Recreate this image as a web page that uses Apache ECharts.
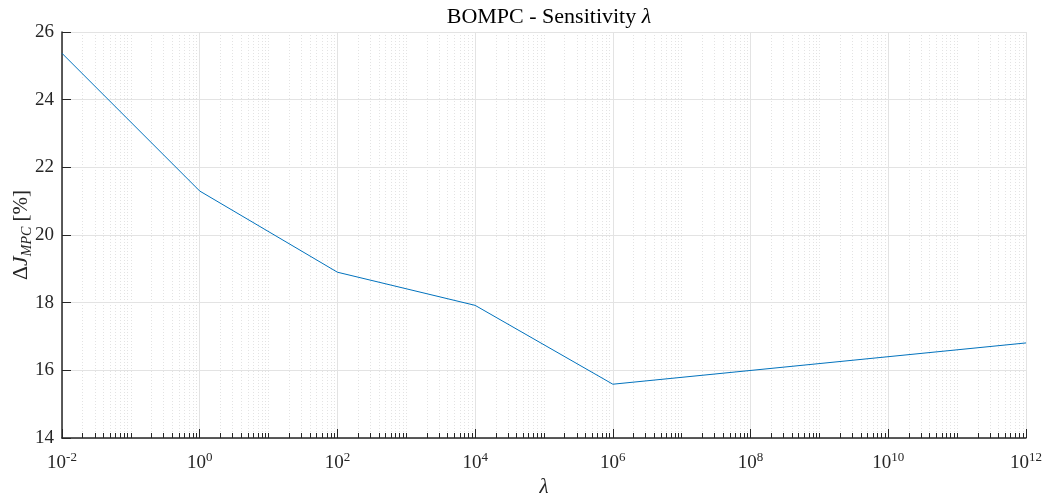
<!DOCTYPE html>
<html>
<head>
<meta charset="utf-8">
<script src="https://cdn.jsdelivr.net/npm/echarts@6/dist/echarts.min.js"></script>
<style>
  html, body { margin: 0; padding: 0; background: #fff; }
  #chart { width: 1047px; height: 495px; }
</style>
</head>
<body>
<div id="chart"></div>
<script>
// lambda values and the cost change
const lambdaValues = [1e-2, 1e0, 1e2, 1e4, 1e6, 1e12];
const deltaJ = [25.37, 21.30, 18.90, 17.92, 15.59, 16.81];

// axis ranges (x in decades)
const xDecades = [-2, 12];
const yRange = [14, 26];

// minor ticks of the log axis: 2..9 in every decade, plus the odd decades
const minorTickExps = [];
for (let n = xDecades[0]; n < xDecades[1]; n++) {
  for (let k = 1; k <= 9; k++) {
    if (k === 1 && n % 2 === 0) continue;
    minorTickExps.push(n + Math.log10(k));
  }
}

const font = '"Liberation Serif", "DejaVu Serif", serif';
const axisColor = '#262626';

let chart = echarts.init(document.getElementById('chart'));
chart.setOption({
  animation: false,
  title: {
    text: '{n|BOMPC - Sensitivity }{l|λ}',
    left: 544,
    textAlign: 'center',
    top: 1,
    textStyle: {
      rich: {
        n: { fontFamily: font, fontSize: 22, fontWeight: 'normal', color: '#000' },
        l: { fontFamily: font, fontSize: 22, fontWeight: 'normal', fontStyle: 'italic', color: '#000' }
      }
    }
  },
  grid: { left: 62, right: 21, top: 32, bottom: 57, outerBoundsMode: 'none', containLabel: false },
  xAxis: [
    {
      type: 'value',
      min: xDecades[0],
      max: xDecades[1],
      interval: 2,
      name: 'λ',
      nameLocation: 'middle',
      nameGap: 39,
      nameTextStyle: { fontFamily: font, fontSize: 21, fontStyle: 'italic', color: '#262626' },
      axisLine: { onZero: false, lineStyle: { color: axisColor, width: 1.5 } },
      axisTick: { inside: true, length: 9, lineStyle: { color: axisColor } },
      axisLabel: {
        margin: 13,
        formatter: v => '{b|10}{s|' + v + '}',
        rich: {
          b: { fontFamily: font, fontSize: 19, color: '#262626', lineHeight: 24 },
          s: { fontFamily: font, fontSize: 13, color: '#262626', verticalAlign: 'top', lineHeight: 20 }
        }
      },
      splitLine: { show: true, lineStyle: { color: '#e3e3e3', width: 1 } }
    },
    {
      type: 'value',
      min: xDecades[0],
      max: xDecades[1],
      position: 'bottom',
      axisLine: { show: false, onZero: false },
      axisLabel: { show: false },
      axisTick: {
        inside: true,
        length: 5,
        customValues: minorTickExps,
        lineStyle: { color: axisColor }
      },
      splitLine: { show: true, lineStyle: { color: '#e3e3e3', width: 1, type: [1, 2] } }
    }
  ],
  yAxis: {
    type: 'value',
    min: yRange[0],
    max: yRange[1],
    interval: 2,
    name: '{d|Δ}{j|J}{sub|MPC}{p| [%]}',
    nameLocation: 'middle',
    nameGap: 28,
    nameMoveOverlap: false,
    nameTextStyle: {
      rich: {
        d: { fontFamily: font, fontSize: 22, color: '#262626', lineHeight: 26 },
        j: { fontFamily: font, fontSize: 22, fontStyle: 'italic', color: '#262626', lineHeight: 26 },
        sub: { fontFamily: font, fontSize: 14, fontStyle: 'italic', color: '#262626', verticalAlign: 'bottom', lineHeight: 18, padding: [8, 0, 0, 0] },
        p: { fontFamily: font, fontSize: 21, color: '#262626', lineHeight: 26 }
      }
    },
    axisLine: { show: true, onZero: false, lineStyle: { color: axisColor, width: 1.5 } },
    axisTick: { show: true, inside: true, length: 9, lineStyle: { color: axisColor } },
    axisLabel: { fontFamily: font, fontSize: 19, color: '#262626', margin: 8 },
    splitLine: { show: true, lineStyle: { color: '#e3e3e3', width: 1 } }
  },
  series: [{
    type: 'line',
    xAxisIndex: 0,
    data: lambdaValues.map((l, i) => [Math.log10(l), deltaJ[i]]),
    showSymbol: false,
    lineStyle: { color: '#0072BD', width: 1 },
    z: 5
  }]
});
</script>
</body>
</html>
